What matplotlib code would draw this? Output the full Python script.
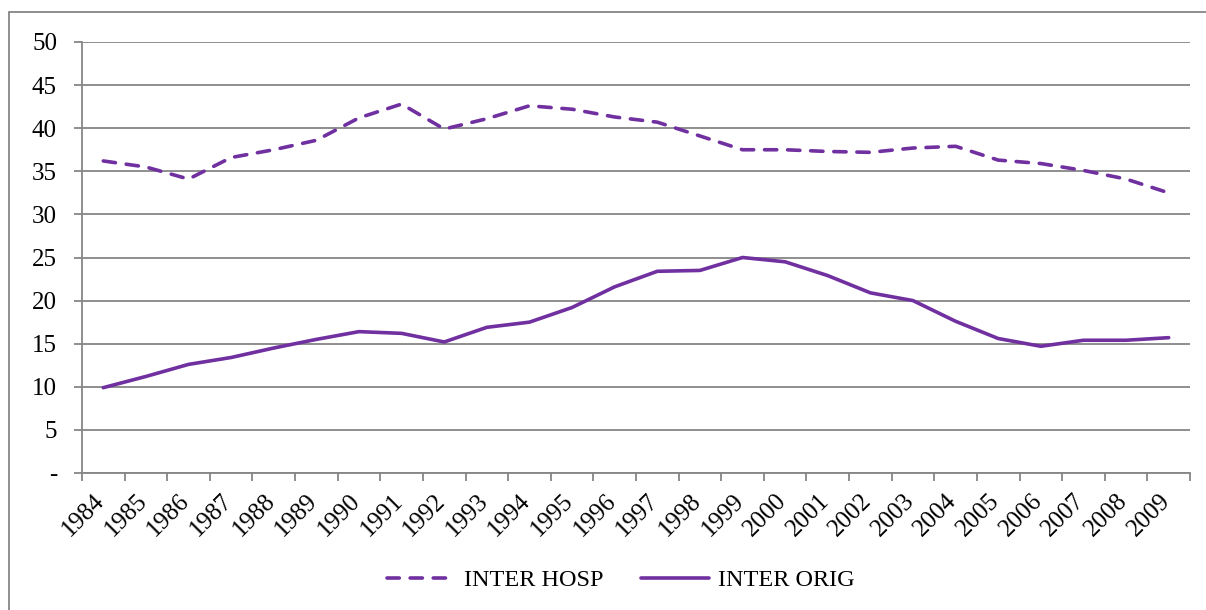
import matplotlib.pyplot as plt
import matplotlib.transforms as mtransforms
from matplotlib.patches import Rectangle

years = [str(y) for y in range(1984, 2010)]
inter_hosp = [36.2, 35.5, 34.1, 36.6, 37.5, 38.6, 41.2, 42.8, 39.9, 41.1,
              42.6, 42.2, 41.3, 40.7, 39.1, 37.5, 37.5, 37.3, 37.2, 37.7,
              37.9, 36.3, 35.9, 35.1, 34.1, 32.5]
inter_orig = [9.9, 11.2, 12.6, 13.4, 14.5, 15.5, 16.4, 16.2, 15.2, 16.9,
              17.5, 19.2, 21.6, 23.4, 23.5, 25.0, 24.5, 22.9, 20.9, 20.0,
              17.6, 15.6, 14.7, 15.4, 15.4, 15.7]
y_ticks = [0, 5, 10, 15, 20, 25, 30, 35, 40, 45, 50]
y_labels = ['-'] + [str(v) for v in y_ticks[1:]]

purple = '#7030A0'
grey = '#868686'

plt.rcParams['font.family'] = ['Liberation Serif', 'DejaVu Serif']

fig = plt.figure(figsize=(12.06, 6.10), dpi=100)
W, H = 1206, 610

# chart frame
fig.patches.append(Rectangle((9 / W, -0.05), 1.2, 1 - 12 / H + 0.05,
                             transform=fig.transFigure, fill=False,
                             edgecolor=grey, linewidth=1.3))

ax = fig.add_axes([82 / W, 1 - 473 / H, (1190 - 82) / W, (473 - 42) / H])
x = list(range(len(years)))

ax.plot(x, inter_hosp, color=purple, lw=2.6, linestyle=(0, (3.4, 3.0)),
        dash_capstyle='round', label='INTER HOSP')
ax.plot(x, inter_orig, color=purple, lw=2.6, solid_capstyle='round',
        solid_joinstyle='round', label='INTER ORIG')

ax.set_xlim(-0.5, len(years) - 0.5)
ax.set_ylim(0, 50)
ax.set_yticks(y_ticks)
ax.set_yticklabels(y_labels, fontsize=18)
ax.set_xticks(x)
ax.set_xticklabels(years, fontsize=18, rotation=45, ha='right',
                   rotation_mode='anchor')
ax.set_xticks([i - 0.5 for i in range(len(years) + 1)], minor=True)
ax.tick_params(axis='x', which='major', length=0, pad=10)
ax.tick_params(axis='x', which='minor', length=6, color=grey, width=1.3)
ax.tick_params(axis='y', length=6, color=grey, width=1.3, pad=12)

# nudge the slanted year labels to the left of their category centres
shift = mtransforms.ScaledTranslation(-10 / 100, -3 / 100, fig.dpi_scale_trans)
for lbl in ax.get_xticklabels():
    lbl.set_transform(lbl.get_transform() + shift)

ax.grid(axis='y', color=grey, linewidth=1.3)
ax.set_axisbelow(True)
for side in ['top', 'right']:
    ax.spines[side].set_visible(False)
for side in ['left', 'bottom']:
    ax.spines[side].set_color(grey)
    ax.spines[side].set_linewidth(1.3)

fig.legend(loc='center', bbox_to_anchor=(621 / W, 1 - 580 / H), ncol=2,
           frameon=False, fontsize=17.5, handlelength=2.8, handletextpad=0.37,
           columnspacing=1.56)

fig.savefig('out.png', dpi=100)
